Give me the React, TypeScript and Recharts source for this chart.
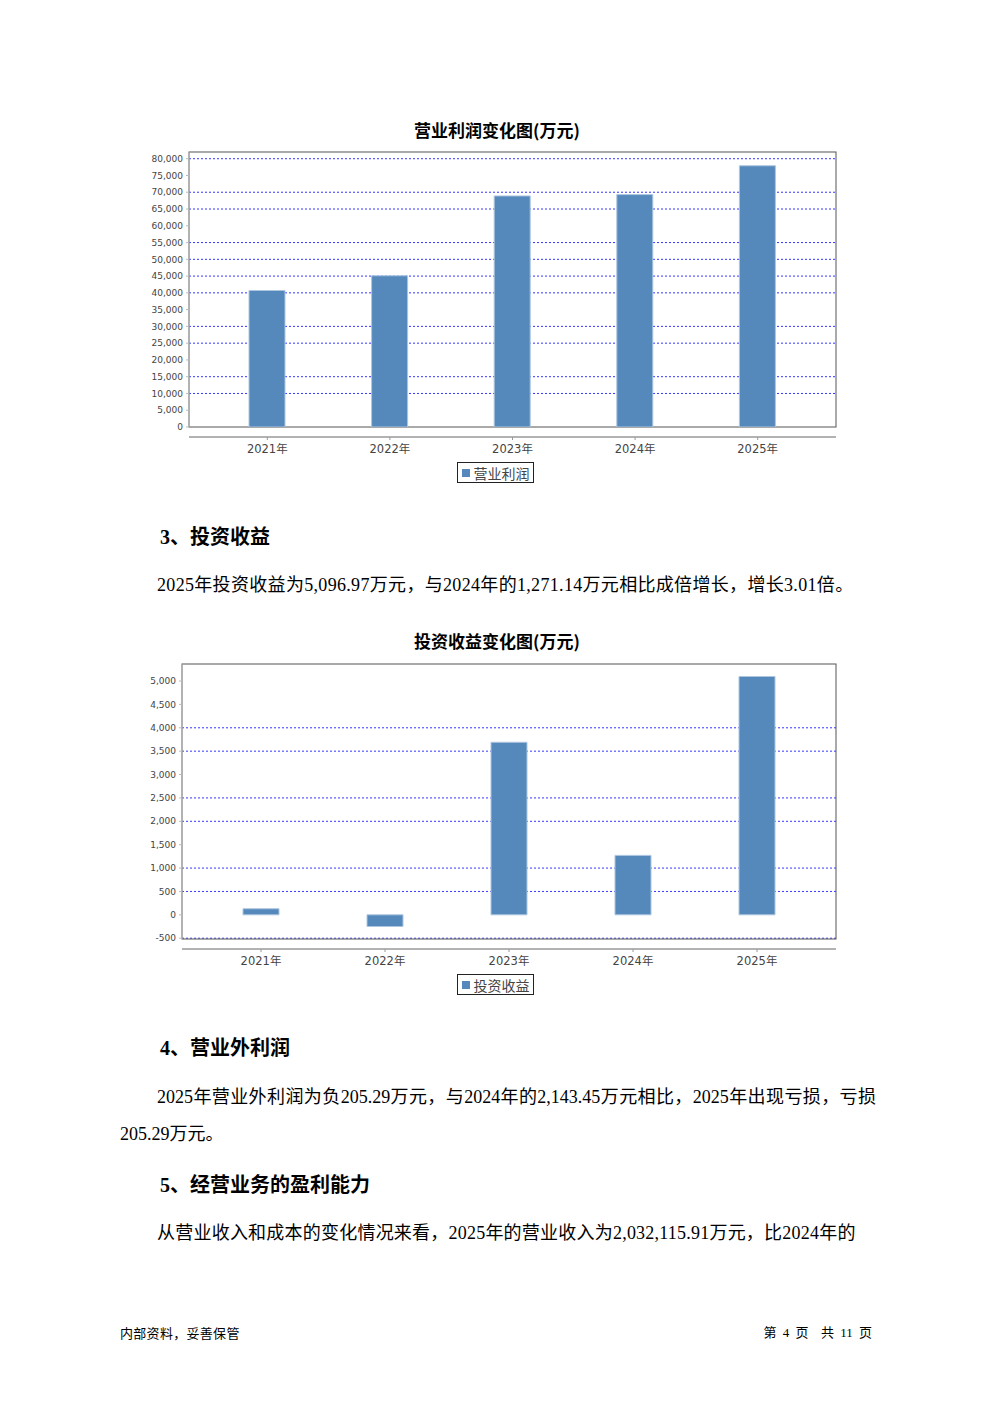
import React from 'react';
import { BarChart, Bar, XAxis, YAxis, CartesianGrid, Legend, usePlotArea } from 'recharts';

const years = ['2021年', '2022年', '2023年', '2024年', '2025年'];
const operatingProfit = [40700, 45100, 68900, 69300, 77900];
const investmentIncome = [130, -250, 3690, 1271.14, 5096.97];

const profitTicks = [0, 5000, 10000, 15000, 20000, 25000, 30000, 35000, 40000, 45000, 50000, 55000, 60000, 65000, 70000, 75000, 80000];
const profitGrid = [10000, 15000, 25000, 30000, 40000, 45000, 50000, 55000, 65000, 70000, 80000];
const incomeTicks = [-500, 0, 500, 1000, 1500, 2000, 2500, 3000, 3500, 4000, 4500, 5000];
const incomeGrid = [-500, 500, 1000, 2000, 2500, 3500, 4000];

const profitData = years.map((year, i) => ({ year, value: operatingProfit[i] }));
const incomeData = years.map((year, i) => ({ year, value: investmentIncome[i] }));

const BAR = '#5589bc';
const AXIS_FONT = "'DejaVu Sans', 'Noto Sans CJK SC', sans-serif";
const BODY_FONT = "'Liberation Serif', 'Noto Sans CJK SC', serif";
const CJK_FONT = "'Noto Sans CJK SC', sans-serif";

const fmt = (v: number) => v.toLocaleString('en-US');

// plot outline plus the x axis line that sits a little below it
function PlotFrame({ gap }: { gap: number }) {
  const plot = usePlotArea();
  if (!plot) return null;
  const y = plot.y + plot.height + gap;
  return (
    <g>
      <rect x={plot.x} y={plot.y} width={plot.width} height={plot.height} fill="none" stroke="#555" />
      <line x1={plot.x} x2={plot.x + plot.width} y1={y} y2={y} stroke="#999" strokeWidth={1.5} />
    </g>
  );
}

function YearTick({ x, y, payload }: any) {
  return (
    <g>
      <line x1={x} x2={x} y1={y - 8} y2={y - 5} stroke="#999" />
      <text x={x} y={y} dy="0.71em" textAnchor="middle" fontSize={11.5} fill="#444" fontFamily={AXIS_FONT}>
        {payload.value}
      </text>
    </g>
  );
}

function BoxLegend({ label }: { label: string }) {
  return (
    <div style={{ display: 'flex', justifyContent: 'center', paddingTop: 5, paddingBottom: 7 }}>
      <div
        style={{
          display: 'inline-flex',
          alignItems: 'center',
          height: 21,
          boxSizing: 'border-box',
          border: '1px solid #222',
          padding: '0 3px 0 4px',
          gap: 4,
          fontFamily: CJK_FONT,
          fontSize: 14,
          color: '#444',
        }}
      >
        <span style={{ width: 8, height: 8, background: BAR, display: 'inline-block' }} />
        <span>{label}</span>
      </div>
    </div>
  );
}

type ChartProps = {
  data: { year: string; value: number }[];
  ticks: number[];
  grid: number[];
  domain: [number, number];
  yWidth: number;
  label: string;
};

function YearBarChart({ data, ticks, grid, domain, yWidth, label }: ChartProps) {
  return (
    <BarChart width={710} height={345} data={data} margin={{ top: 7, right: 14, left: 0, bottom: 0 }}>
      <CartesianGrid vertical={false} horizontalValues={grid} stroke="#3535ff" strokeDasharray="2 2" />
      <XAxis
        dataKey="year"
        height={30}
        padding={{ left: 17, right: 17 }}
        axisLine={false}
        tickLine={false}
        tickSize={6}
        tickMargin={12}
        tick={<YearTick />}
        interval={0}
      />
      <YAxis
        width={yWidth}
        domain={domain}
        ticks={ticks}
        interval={0}
        allowDataOverflow
        tickFormatter={fmt}
        tickSize={3}
        tickMargin={3}
        axisLine={{ stroke: '#bbb' }}
        tickLine={{ stroke: '#bbb' }}
        tick={{ fontSize: 9, fill: '#444', fontFamily: AXIS_FONT }}
      />
      <Bar dataKey="value" name={label} fill={BAR} stroke="#adc6e0" strokeWidth={1} barSize={36} isAnimationActive={false} />
      <PlotFrame gap={10} />
      <Legend verticalAlign="bottom" wrapperStyle={{ left: 0, width: 710 }} content={() => <BoxLegend label={label} />} />
    </BarChart>
  );
}

function Line({ top, left, children, style }: { top: number; left: number; children: React.ReactNode; style?: React.CSSProperties }) {
  return (
    <div
      style={{
        position: 'absolute',
        top: top - 14,
        left,
        height: 28,
        lineHeight: '28px',
        whiteSpace: 'nowrap',
        fontFamily: BODY_FONT,
        fontSize: 18,
        color: '#000',
        ...style,
      }}
    >
      {children}
    </div>
  );
}

function Heading({ top, children }: { top: number; children: React.ReactNode }) {
  return (
    <Line top={top} left={160} style={{ fontSize: 20, fontWeight: 700 }}>
      {children}
    </Line>
  );
}

function ChartTitle({ top, children }: { top: number; children: React.ReactNode }) {
  return (
    <Line top={top} left={0} style={{ width: 994, textAlign: 'center', fontFamily: CJK_FONT, fontSize: 17, fontWeight: 700 }}>
      {children}
    </Line>
  );
}

export default function App() {
  return (
    <div style={{ position: 'absolute', left: 0, top: 0, width: 992, height: 1403, background: '#fff', overflow: 'hidden' }}>
      <ChartTitle top={130}>营业利润变化图(万元)</ChartTitle>
      <div style={{ position: 'absolute', left: 140, top: 145 }}>
        <YearBarChart data={profitData} ticks={profitTicks} grid={profitGrid} domain={[0, 82000]} yWidth={49} label="营业利润" />
      </div>

      <Heading top={537}>3、投资收益</Heading>
      <Line top={585} left={157} style={{ letterSpacing: 0.32 }}>
        2025年投资收益为5,096.97万元，与2024年的1,271.14万元相比成倍增长，增长3.01倍。
      </Line>

      <ChartTitle top={641}>投资收益变化图(万元)</ChartTitle>
      <div style={{ position: 'absolute', left: 140, top: 657 }}>
        <YearBarChart data={incomeData} ticks={incomeTicks} grid={incomeGrid} domain={[-517, 5364]} yWidth={42} label="投资收益" />
      </div>

      <Heading top={1048}>4、营业外利润</Heading>
      <Line top={1097} left={157} style={{ width: 719, textAlign: 'justify', textAlignLast: 'justify' }}>
        2025年营业外利润为负205.29万元，与2024年的2,143.45万元相比，2025年出现亏损，亏损
      </Line>
      <Line top={1134} left={120}>
        205.29万元。
      </Line>

      <Heading top={1185}>5、经营业务的盈利能力</Heading>
      <Line top={1233} left={157} style={{ letterSpacing: 0.22 }}>
        从营业收入和成本的变化情况来看，2025年的营业收入为2,032,115.91万元，比2024年的
      </Line>

      <Line top={1333} left={120} style={{ fontFamily: CJK_FONT, fontSize: 13, letterSpacing: 0.3 }}>
        内部资料，妥善保管
      </Line>
      <Line top={1333} left={700} style={{ width: 172, textAlign: 'right', fontSize: 13, wordSpacing: 3, whiteSpace: 'pre' }}>
        第 4 页  共 11 页
      </Line>
    </div>
  );
}
